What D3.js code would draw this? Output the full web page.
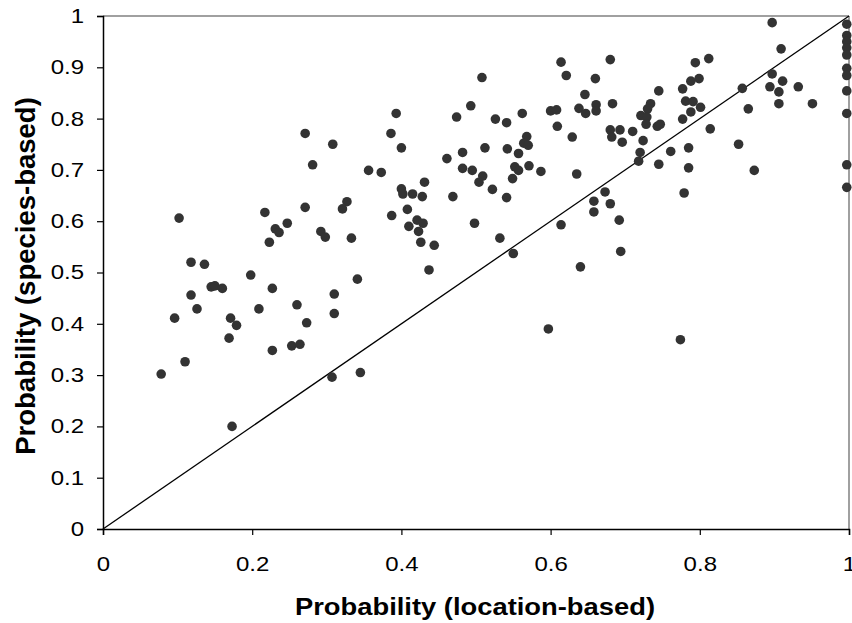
<!DOCTYPE html>
<html>
<head>
<meta charset="utf-8">
<script src="https://cdn.jsdelivr.net/npm/d3@7"></script>
<style>
  html, body { margin: 0; padding: 0; background: #fff; }
  svg { display: block; }
  .tick text { font-family: "Liberation Sans", Arial, sans-serif; font-size: 20px; fill: #000; }
  .axis-title { font-family: "Liberation Sans", Arial, sans-serif; font-weight: bold; fill: #000; }
</style>
</head>
<body>
<svg id="chart" width="852" height="623"></svg>
<script>
// Probability of occurrence: location-based model (x) vs species-based model (y)
const locationBased = [
  0.271, 0.308, 0.281, 0.327, 0.321, 0.271, 0.217, 0.247, 0.231, 0.236, 0.223, 0.292, 0.298, 0.333, 0.102, 0.118, 0.136,
  0.198, 0.145, 0.150, 0.160, 0.227, 0.118, 0.310, 0.126, 0.209, 0.260, 0.310, 0.096, 0.171, 0.179, 0.273, 0.169, 0.227,
  0.253, 0.264, 0.110, 0.078, 0.307, 0.173,
  0.614, 0.621, 0.660, 0.508, 0.646, 0.493, 0.661, 0.661, 0.638, 0.647, 0.600, 0.608, 0.393, 0.474, 0.562, 0.526, 0.541,
  0.609, 0.386, 0.568, 0.629, 0.564, 0.570, 0.400, 0.512, 0.542, 0.557, 0.461, 0.482, 0.482, 0.495, 0.552, 0.557, 0.571,
  0.587, 0.635, 0.356, 0.373, 0.509, 0.504, 0.549, 0.431, 0.400, 0.402, 0.415, 0.428, 0.469, 0.522, 0.541, 0.408, 0.387,
  0.421, 0.429, 0.410, 0.423, 0.426, 0.444, 0.498, 0.532, 0.614, 0.658, 0.658, 0.550, 0.437, 0.640,
  0.341, 0.597, 0.345,
  0.997, 0.997, 0.997, 0.997, 0.997, 0.997, 0.997, 0.997, 0.997, 0.997, 0.997,
  0.897, 0.909, 0.680, 0.794, 0.812, 0.788, 0.799, 0.897, 0.911, 0.894, 0.932, 0.857, 0.906, 0.906, 0.951, 0.865, 0.745,
  0.777, 0.781, 0.791, 0.788, 0.801, 0.777, 0.734, 0.730, 0.721, 0.729, 0.728, 0.743, 0.747, 0.683, 0.680, 0.693, 0.682,
  0.696, 0.710, 0.724, 0.720, 0.718, 0.761, 0.745, 0.785, 0.785, 0.814, 0.852, 0.873, 0.779, 0.673, 0.680, 0.692, 0.694,
  0.774
];
const speciesBased = [
  0.771, 0.750, 0.710, 0.638, 0.624, 0.627, 0.617, 0.596, 0.585, 0.578, 0.559, 0.580, 0.569, 0.567, 0.606, 0.520, 0.516,
  0.495, 0.472, 0.474, 0.469, 0.469, 0.456, 0.458, 0.429, 0.429, 0.437, 0.420, 0.411, 0.411, 0.397, 0.402, 0.372, 0.348,
  0.357, 0.360, 0.326, 0.302, 0.296, 0.200,
  0.910, 0.884, 0.878, 0.880, 0.847, 0.825, 0.827, 0.815, 0.820, 0.810, 0.815, 0.817, 0.810, 0.803, 0.810, 0.799, 0.792,
  0.785, 0.771, 0.765, 0.764, 0.752, 0.748, 0.743, 0.743, 0.741, 0.732, 0.722, 0.734, 0.703, 0.699, 0.706, 0.699, 0.708,
  0.697, 0.692, 0.699, 0.695, 0.688, 0.676, 0.683, 0.676, 0.663, 0.653, 0.653, 0.648, 0.648, 0.662, 0.646, 0.623, 0.611,
  0.602, 0.596, 0.590, 0.580, 0.559, 0.553, 0.596, 0.567, 0.593, 0.639, 0.618, 0.537, 0.505, 0.511,
  0.487, 0.390, 0.305,
  0.984, 0.962, 0.950, 0.938, 0.924, 0.898, 0.884, 0.854, 0.810, 0.710, 0.666,
  0.987, 0.936, 0.915, 0.909, 0.917, 0.873, 0.878, 0.887, 0.873, 0.862, 0.862, 0.859, 0.852, 0.829, 0.829, 0.819, 0.854,
  0.858, 0.834, 0.833, 0.813, 0.822, 0.799, 0.829, 0.819, 0.806, 0.803, 0.789, 0.785, 0.789, 0.829, 0.778, 0.778, 0.764,
  0.754, 0.775, 0.757, 0.734, 0.717, 0.736, 0.711, 0.743, 0.704, 0.780, 0.750, 0.699, 0.655, 0.657, 0.634, 0.602, 0.541,
  0.369
];
const xTicks = [0, 0.2, 0.4, 0.6, 0.8, 1];
const yTicks = [0, 0.1, 0.2, 0.3, 0.4, 0.5, 0.6, 0.7, 0.8, 0.9, 1];
const xTitle = "Probability (location-based)";
const yTitle = "Probability (species-based)";

const points = locationBased.map((x, i) => ({ x, y: speciesBased[i] }));

const svg = d3.select("#chart");
const margin = { left: 103, top: 16, right: 3, bottom: 94 };
const W = 852 - margin.left - margin.right;
const H = 623 - margin.top - margin.bottom;

const x = d3.scaleLinear().domain([0, 1]).range([0, W]);
const y = d3.scaleLinear().domain([0, 1]).range([H, 0]);

const g = svg.append("g").attr("transform", `translate(${margin.left},${margin.top})`);

// plot frame: grey top and right edges
g.append("line").attr("x1", 0).attr("x2", W).attr("y1", 0).attr("y2", 0)
  .attr("stroke", "#808080").attr("stroke-width", 1.5);
g.append("line").attr("x1", W).attr("x2", W).attr("y1", 0).attr("y2", H)
  .attr("stroke", "#808080").attr("stroke-width", 1.5);

// 1:1 reference line
g.append("line")
  .attr("x1", x(0)).attr("y1", y(0)).attr("x2", x(1)).attr("y2", y(1))
  .attr("stroke", "#000").attr("stroke-width", 1.3);

// points
g.append("g").selectAll("circle").data(points).join("circle")
  .attr("cx", d => x(d.x)).attr("cy", d => y(d.y)).attr("r", 4.8)
  .attr("fill", "#333333");

const fmt = d3.format("~g");

const xAxis = g.append("g").attr("transform", `translate(0,${H})`)
  .call(d3.axisBottom(x).tickValues(xTicks).tickFormat(fmt).tickSize(6).tickPadding(22));
const yAxis = g.append("g")
  .call(d3.axisLeft(y).tickValues(yTicks).tickFormat(fmt).tickSize(6).tickPadding(13));

[xAxis, yAxis].forEach(a => {
  a.select(".domain").attr("stroke", "#000").attr("stroke-width", 1.5);
  a.selectAll(".tick line").attr("stroke", "#000").attr("stroke-width", 1.2);
  // slightly widened tick digits
  a.selectAll(".tick text").each(function () {
    const len = this.getComputedTextLength();
    d3.select(this).attr("textLength", len * 1.2).attr("lengthAdjust", "spacingAndGlyphs");
  });
});

// axis titles
const xt = svg.append("text").attr("class", "axis-title")
  .attr("x", margin.left + W / 2 - 1).attr("y", 615)
  .attr("text-anchor", "middle")
  .style("font-size", "23px")
  .text(xTitle);
xt.attr("textLength", 360).attr("lengthAdjust", "spacingAndGlyphs");

svg.append("text").attr("class", "axis-title")
  .attr("transform", `translate(35,${276}) rotate(-90)`)
  .attr("text-anchor", "middle")
  .style("font-size", "27.5px")
  .text(yTitle);
</script>
</body>
</html>
